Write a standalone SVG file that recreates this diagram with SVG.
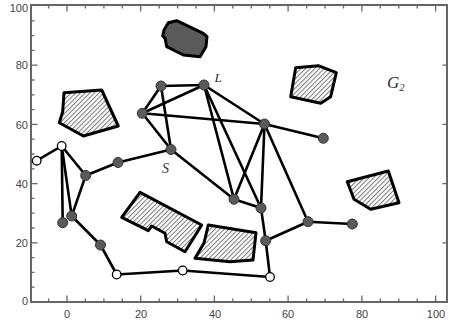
<svg xmlns="http://www.w3.org/2000/svg" width="449" height="323" viewBox="0 0 449 323">
<defs>
<pattern id="hatch" patternUnits="userSpaceOnUse" width="3.3" height="3.3" patternTransform="rotate(45)">
<line x1="0.5" y1="0" x2="0.5" y2="3.3" stroke="#777" stroke-width="1"/>
</pattern>
</defs>
<style>
.frame{fill:none;stroke:#666;stroke-width:2}
.tick{stroke:#666;stroke-width:1.3}
.tl{font-family:"Liberation Sans",Arial,sans-serif;font-size:11px;fill:#444}
.obs{fill:url(#hatch);stroke:#000;stroke-width:3;stroke-linejoin:round}
.dark{fill:#5a5a5a;stroke:#000;stroke-width:3;stroke-linejoin:round}
.e{stroke:#000;stroke-width:2.6;stroke-linecap:round;fill:none}
.f{fill:#5a5a5a;stroke:#333;stroke-width:1}
.o{fill:#fff;stroke:#000;stroke-width:1.3}
.lab{font-family:"Liberation Serif","Times New Roman",serif;font-style:italic;fill:#333}
</style>
<rect x="0" y="0" width="449" height="323" fill="#fff"/>
<g id="axes">
<rect class="frame" x="31" y="5" width="416" height="297"/>
<g class="tick">
<path d="M48.6 302v-3.5M85.4 302v-3.5M103.9 302v-3.5M122.3 302v-3.5M159.2 302v-3.5M177.6 302v-3.5M196 302v-3.5M232.9 302v-3.5M251.3 302v-3.5M269.8 302v-3.5M306.6 302v-3.5M325 302v-3.5M343.5 302v-3.5M380.3 302v-3.5M398.8 302v-3.5M417.2 302v-3.5"/>
<path d="M67 302v-6.5M140.7 302v-6.5M214.4 302v-6.5M288.1 302v-6.5M361.9 302v-6.5M435.6 302v-6.5"/>
<path d="M48.6 5v3.5M85.4 5v3.5M103.9 5v3.5M122.3 5v3.5M159.2 5v3.5M177.6 5v3.5M196 5v3.5M232.9 5v3.5M251.3 5v3.5M269.8 5v3.5M306.6 5v3.5M325 5v3.5M343.5 5v3.5M380.3 5v3.5M398.8 5v3.5M417.2 5v3.5"/>
<path d="M67 5v6.5M140.7 5v6.5M214.4 5v6.5M288.1 5v6.5M361.9 5v6.5M435.6 5v6.5"/>
<path d="M31 287.2h3.5M31 272.4h3.5M31 257.6h3.5M31 228h3.5M31 213.2h3.5M31 198.4h3.5M31 168.8h3.5M31 154h3.5M31 139.2h3.5M31 109.6h3.5M31 94.8h3.5M31 80h3.5M31 50.4h3.5M31 35.6h3.5M31 20.8h3.5"/>
<path d="M31 242.8h6.5M31 183.6h6.5M31 124.4h6.5M31 65.2h6.5"/>
<path d="M447 242.8h-4.5M447 183.6h-4.5M447 124.4h-4.5M447 65.2h-4.5"/>
</g>
<g class="tl" text-anchor="end">
<text x="28" y="305">0</text>
<text x="28" y="247">20</text>
<text x="28" y="188">40</text>
<text x="28" y="129">60</text>
<text x="28" y="69">80</text>
<text x="28" y="12">100</text>
</g>
<g class="tl" text-anchor="middle">
<text x="67" y="318">0</text>
<text x="141" y="318">20</text>
<text x="215" y="318">40</text>
<text x="288" y="318">60</text>
<text x="362" y="318">80</text>
<text x="436" y="318">100</text>
</g>
</g>
<g id="obstacles">
<polygon class="dark" points="164,30 168.3,22.7 176.7,20.7 203.3,33.3 207,36.7 206,46.7 200,56.7 183.3,55 166.7,46.7 165,38.3 162.7,36"/>
<polygon class="obs" points="64,92.7 101.7,90 118.3,126 83.3,136 59.3,122.7 62.7,111.7"/>
<polygon class="obs" points="295.7,67.7 318.3,65.7 336.3,72.7 330.7,96.7 320.7,103.3 290.7,96.7"/>
<polygon class="obs" points="347.3,181.7 388.3,171 399,202.7 370.7,209.3 354,199.3"/>
<polygon class="obs" points="121.7,217.3 140,192.3 201.7,225 185,251.7 166.7,241.7 165,233.3 151.7,226 148.3,230.7"/>
<polygon class="obs" points="208.3,225 256,232.7 253,260 230,261.7 195,258.3 204,243"/>
</g>
<g id="connectors" class="e">
<line x1="36.7" y1="160.7" x2="61.7" y2="146"/>
<line x1="61.7" y1="146" x2="62.7" y2="222.7"/>
<line x1="61.7" y1="146" x2="71.7" y2="216"/>
<line x1="61.7" y1="146" x2="85.7" y2="175.5"/>
<line x1="85.7" y1="175.5" x2="118" y2="162.5"/>
<line x1="85.7" y1="175.5" x2="71.7" y2="216"/>
<line x1="71.7" y1="216" x2="100.5" y2="245"/>
<line x1="100.5" y1="245" x2="116.7" y2="274.5"/>
<line x1="116.7" y1="274.5" x2="182.7" y2="270.5"/>
<line x1="182.7" y1="270.5" x2="270" y2="277"/>
<line x1="270" y1="277" x2="265.7" y2="240.7"/>
<line x1="265.7" y1="240.7" x2="261" y2="208"/>
<line x1="265.7" y1="240.7" x2="308" y2="221.7"/>
<line x1="308" y1="221.7" x2="352.3" y2="224"/>
<line x1="308" y1="221.7" x2="264.5" y2="124"/>
<line x1="118" y1="162.5" x2="171" y2="149.5"/>
<line x1="171" y1="149.5" x2="161" y2="86"/>
<line x1="171" y1="149.5" x2="142.3" y2="113.3"/>
<line x1="171" y1="149.5" x2="234" y2="199.3"/>
<line x1="161" y1="86" x2="204" y2="85"/>
<line x1="161" y1="86" x2="142.3" y2="113.3"/>
<line x1="142.3" y1="113.3" x2="204" y2="85"/>
<line x1="142.3" y1="113.3" x2="264.5" y2="124"/>
<line x1="204" y1="85" x2="264.5" y2="124"/>
<line x1="204" y1="85" x2="234" y2="199.3"/>
<line x1="204" y1="85" x2="261" y2="208"/>
<line x1="264.5" y1="124" x2="234" y2="199.3"/>
<line x1="264.5" y1="124" x2="261" y2="208"/>
<line x1="264.5" y1="124" x2="323.3" y2="138.3"/>
<line x1="234" y1="199.3" x2="261" y2="208"/>
</g>
<g id="n1"><circle class="o" cx="36.7" cy="160.7" r="4.3"/></g>
<g id="n2"><circle class="o" cx="61.7" cy="146" r="4.3"/></g>
<g id="n3"><circle class="f" cx="85.7" cy="175.5" r="5"/></g>
<g id="n4"><circle class="f" cx="118" cy="162.5" r="5"/></g>
<g id="n5"><circle class="f" cx="62.7" cy="222.7" r="5"/></g>
<g id="n6"><circle class="f" cx="71.7" cy="216" r="5"/></g>
<g id="n7"><circle class="f" cx="100.5" cy="245" r="5"/></g>
<g id="n8"><circle class="o" cx="116.7" cy="274.5" r="4.3"/></g>
<g id="n9"><circle class="o" cx="182.7" cy="270.5" r="4.3"/></g>
<g id="n10"><circle class="o" cx="270" cy="277" r="4.3"/></g>
<g id="nS"><circle class="f" cx="171" cy="149.5" r="5"/><text class="lab" x="162" y="172.5" font-size="14">S</text></g>
<g id="n12"><circle class="f" cx="161" cy="86" r="5"/></g>
<g id="nL"><circle class="f" cx="204" cy="85" r="5"/><text class="lab" x="214.5" y="82" font-size="13.5">L</text></g>
<g id="n14"><circle class="f" cx="142.3" cy="113.3" r="5"/></g>
<g id="n15"><circle class="f" cx="264.5" cy="124" r="5"/></g>
<g id="n16"><circle class="f" cx="323.3" cy="138.3" r="5"/></g>
<g id="n17"><circle class="f" cx="234" cy="199.3" r="5"/></g>
<g id="n18"><circle class="f" cx="261" cy="208" r="5"/></g>
<g id="n19"><circle class="f" cx="265.7" cy="240.7" r="5"/></g>
<g id="n20"><circle class="f" cx="308" cy="221.7" r="5"/></g>
<g id="n21"><circle class="f" cx="352.3" cy="224" r="5"/></g>
<g id="title"><text class="lab" x="387" y="88" font-size="17">G<tspan font-size="11" dy="3">2</tspan></text></g>
</svg>
